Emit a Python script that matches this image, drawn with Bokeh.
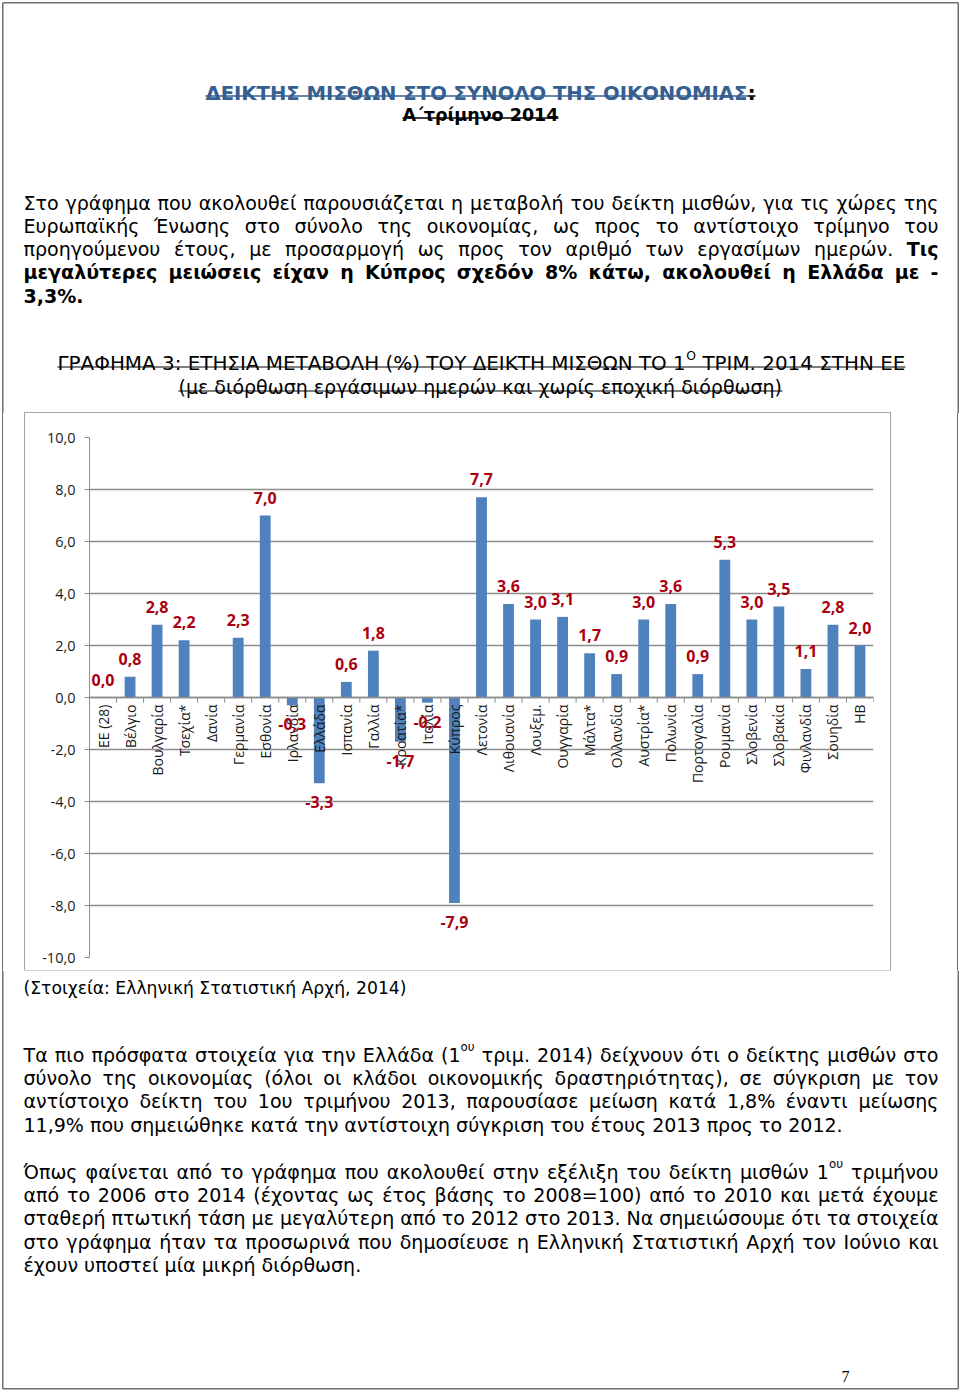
import math, os, glob, struct
from bokeh.plotting import figure
from bokeh.models import ColumnDataSource, Range1d, FactorRange, FixedTicker, Spacer
from bokeh.layouts import column, row
from bokeh.core.properties import value
from bokeh.embed import file_html
from bokeh.resources import INLINE

# ------------------------------------------------------------------ data
COUNTRIES = ["ΕΕ (28)", "Βέλγιο", "Βουλγαρία", "Τσεχία*", "Δανία", "Γερμανία",
             "Εσθονία", "Ιρλανδία", "Ελλάδα", "Ισπανία", "Γαλλία", "Κροατία*",
             "Ιταλία", "Κύπρος", "Λετονία", "Λιθουανία", "Λουξεμ.", "Ουγγαρία",
             "Μάλτα*", "Ολλανδία", "Αυστρία*", "Πολωνία", "Πορτογαλία", "Ρουμανία",
             "Σλοβενία", "Σλοβακία", "Φινλανδία", "Σουηδία", "ΗΒ"]
CHANGE = [0.0, 0.8, 2.8, 2.2, None, 2.3,
          7.0, -0.3, -3.3, 0.6, 1.8, -1.7,
          -0.2, -7.9, 7.7, 3.6, 3.0, 3.1,
          1.7, 0.9, 3.0, 3.6, 0.9, 5.3,
          3.0, 3.5, 1.1, 2.8, 2.0]
Y_TICKS = [-10, -8, -6, -4, -2, 0, 2, 4, 6, 8, 10]
Y_TICK_LABELS = ["-10,0", "-8,0", "-6,0", "-4,0", "-2,0", "0,0", "2,0", "4,0", "6,0", "8,0", "10,0"]

TITLE = "ΔΕΙΚΤΗΣ ΜΙΣΘΩΝ ΣΤΟ ΣΥΝΟΛΟ ΤΗΣ ΟΙΚΟΝΟΜΙΑΣ"
SUBTITLE = "Α΄τρίμηνο 2014"
INTRO = [
    ([("Στο γράφημα που ακολουθεί παρουσιάζεται η μεταβολή του δείκτη μισθών, για τις χώρες της", "n")], True),
    ([("Ευρωπαϊκής Ένωσης στο σύνολο της οικονομίας, ως προς το αντίστοιχο τρίμηνο του", "n")], True),
    ([("προηγούμενου έτους, με προσαρμογή ως προς τον αριθμό των εργασίμων ημερών.", "n"), (" Τις", "b")], True),
    ([("μεγαλύτερες μειώσεις είχαν η Κύπρος σχεδόν 8% κάτω, ακολουθεί η Ελλάδα με -", "b")], True),
    ([("3,3%.", "b")], False),
]
CHART_TITLE_1 = [("ΓΡΑΦΗΜΑ 3: ΕΤΗΣΙΑ ΜΕΤΑΒΟΛΗ (%) ΤΟΥ ΔΕΙΚΤΗ ΜΙΣΘΩΝ ΤΟ 1", "n"), ("Ο", "sup"),
                 (" ΤΡΙΜ. 2014 ΣΤΗΝ ΕΕ", "n")]
CHART_TITLE_2 = [("(με διόρθωση εργάσιμων ημερών και χωρίς εποχική διόρθωση)", "n")]
SOURCE = [("(Στοιχεία: Ελληνική Στατιστική Αρχή, 2014)", "n")]
PARA2 = [
    ([("Τα πιο πρόσφατα στοιχεία για την Ελλάδα (1", "n"), ("ου", "sup"),
      (" τριμ. 2014) δείχνουν ότι ο δείκτης μισθών στο", "n")], True),
    ([("σύνολο της οικονομίας (όλοι οι κλάδοι οικονομικής δραστηριότητας), σε σύγκριση με τον", "n")], True),
    ([("αντίστοιχο δείκτη του 1ου τριμήνου 2013, παρουσίασε μείωση κατά 1,8% έναντι μείωσης", "n")], True),
    ([("11,9% που σημειώθηκε κατά την αντίστοιχη σύγκριση του έτους 2013 προς το 2012.", "n")], False),
]
PARA3 = [
    ([("Όπως φαίνεται από το γράφημα που ακολουθεί στην εξέλιξη του δείκτη μισθών 1", "n"), ("ου", "sup"),
      (" τριμήνου", "n")], True),
    ([("από το 2006 στο 2014 (έχοντας ως έτος βάσης το 2008=100) από το 2010 και μετά έχουμε", "n")], True),
    ([("σταθερή πτωτική τάση με μεγαλύτερη από το 2012 στο 2013. Να σημειώσουμε ότι τα στοιχεία", "n")], True),
    ([("στο γράφημα ήταν τα  προσωρινά που δημοσίευσε η Ελληνική Στατιστική Αρχή τον Ιούνιο και", "n")], True),
    ([("έχουν υποστεί μία μικρή διόρθωση.", "n")], False),
]
PAGE_NO = "7"

# ------------------------------------------------------------------ styles
BLUE = "#365F91"
BAR = "#4F81BD"
LABEL_RED = "#AA000F"
GRID = "#8C8C8C"
PAGE_EDGE = "#6e6e6e"
BODY_FONT = "DejaVu Sans"


# ------------------------------------------------------------------ font metrics (for justification)
def find_font(fname):
    for root in ["/usr/share/fonts", "/usr/local/share/fonts",
                 os.path.expanduser("~/.fonts"), os.path.expanduser("~/.local/share/fonts")]:
        hits = glob.glob(os.path.join(root, "**", fname), recursive=True)
        if hits:
            return hits[0]
    return None


class Metrics:
    def __init__(self, path, fallback=0.6):
        self.ok = False
        self.fallback = fallback
        if path is None:
            return
        try:
            with open(path, "rb") as f:
                d = f.read()
            n = struct.unpack(">H", d[4:6])[0]
            t = {}
            for i in range(n):
                tag, _, off, _ln = struct.unpack(">4sIII", d[12 + 16 * i:28 + 16 * i])
                t[tag] = off
            upm = struct.unpack(">H", d[t[b"head"] + 18:t[b"head"] + 20])[0]
            nh = struct.unpack(">H", d[t[b"hhea"] + 34:t[b"hhea"] + 36])[0]
            hm = t[b"hmtx"]
            self.adv = [struct.unpack(">H", d[hm + 4 * i:hm + 4 * i + 2])[0] / upm for i in range(nh)]
            c = t[b"cmap"]
            nsub = struct.unpack(">H", d[c + 2:c + 4])[0]
            sub = None
            for i in range(nsub):
                pid, eid, off = struct.unpack(">HHI", d[c + 4 + 8 * i:c + 12 + 8 * i])
                fmt = struct.unpack(">H", d[c + off:c + off + 2])[0]
                if fmt == 4 and ((pid == 3 and eid == 1) or pid == 0):
                    sub = c + off
                    if pid == 3:
                        break
            segx2 = struct.unpack(">H", d[sub + 6:sub + 8])[0]
            seg = segx2 // 2
            self.ends = struct.unpack(">%dH" % seg, d[sub + 14:sub + 14 + segx2])
            self.starts = struct.unpack(">%dH" % seg, d[sub + 16 + segx2:sub + 16 + 2 * segx2])
            self.deltas = struct.unpack(">%dh" % seg, d[sub + 16 + 2 * segx2:sub + 16 + 3 * segx2])
            self.ro_pos = sub + 16 + 3 * segx2
            self.ros = struct.unpack(">%dH" % seg, d[self.ro_pos:self.ro_pos + segx2])
            self.d = d
            self.ok = True
        except Exception:
            self.ok = False

    def glyph(self, ch):
        cp = ord(ch)
        for i, e in enumerate(self.ends):
            if e >= cp:
                if self.starts[i] > cp:
                    return 0
                if self.ros[i] == 0:
                    return (cp + self.deltas[i]) & 0xFFFF
                addr = self.ro_pos + 2 * i + self.ros[i] + 2 * (cp - self.starts[i])
                g = struct.unpack(">H", self.d[addr:addr + 2])[0]
                return (g + self.deltas[i]) & 0xFFFF if g else 0
        return 0

    def em(self, text):
        if not self.ok:
            return len(text) * self.fallback
        w = 0.0
        for ch in text:
            g = self.glyph(ch)
            w += self.adv[min(g, len(self.adv) - 1)]
        return w


MET = {"n": Metrics(find_font("DejaVuSans.ttf"), 0.6),
       "b": Metrics(find_font("DejaVuSans-Bold.ttf"), 0.68)}

KINDS = {
    "n": dict(w="n", s=1.0, rise=0.0, color="#000000"),
    "b": dict(w="b", s=1.0, rise=0.0, color="#000000"),
    "sup": dict(w="n", s=0.62, rise=0.40, color="#000000"),
    "tb": dict(w="b", s=1.0, rise=0.0, color=BLUE),
    "tk": dict(w="b", s=1.0, rise=0.0, color="#000000"),
}


def run_w(text, kind, size):
    k = KINDS[kind]
    return MET[k["w"]].em(text) * size * k["s"]


def runs_w(runs, size):
    return sum(run_w(t, k, size) for t, k in runs)


def words_of(runs):
    words = [[]]
    for text, kind in runs:
        parts = text.split(" ")
        for j, part in enumerate(parts):
            if j > 0 and words[-1]:
                words.append([])
            if part:
                words[-1].append((part, kind))
    return [w for w in words if w]


class Page:
    def __init__(self):
        self.groups = {}
        self.ul = dict(x0=[], x1=[], y=[], c=[], w=[])

    def put(self, x, y, text, kind, size):
        k = KINDS[kind]
        fs = round(size * k["s"], 2)
        key = (k["w"], fs, k["color"])
        d = self.groups.setdefault(key, dict(x=[], y=[], t=[]))
        d["x"].append(x)
        d["y"].append(y - k["rise"] * size)
        d["t"].append(text)

    def runs(self, runs, x, y, size, underline=None):
        for text, kind in runs:
            w = run_w(text, kind, size)
            stripped = text.lstrip(" ")
            lead = run_w(text[:len(text) - len(stripped)], kind, size)
            if stripped:
                self.put(x + lead, y, stripped, kind, size)
            if underline:
                self.ul["x0"].append(x)
                self.ul["x1"].append(x + w)
                self.ul["y"].append(y + underline[0])
                self.ul["c"].append(KINDS[kind]["color"])
                self.ul["w"].append(underline[1])
            x += w
        return x

    def centered(self, runs, cx, y, size, underline=None):
        self.runs(runs, cx - runs_w(runs, size) / 2, y, size, underline)

    def justified(self, runs, x0, x1, y, size):
        words = words_of(runs)
        ws = [runs_w(wd, size) for wd in words]
        gap = (x1 - x0 - sum(ws)) / (len(words) - 1) if len(words) > 1 else 0
        x = x0
        for wd, w in zip(words, ws):
            self.runs(wd, x, y, size)
            x += w + gap

    def paragraph(self, lines, x0, x1, ys, size):
        for (runs, just), y in zip(lines, ys):
            if just:
                self.justified(runs, x0, x1, y, size)
            else:
                self.runs(runs, x0, y, size)

    def render(self, fig):
        for (w, fs, color), d in self.groups.items():
            fig.text(x="x", y="y", text="t", source=ColumnDataSource(d),
                     text_font=value(BODY_FONT), text_font_size=value(f"{fs}px"),
                     text_font_style="bold" if w == "b" else "normal",
                     text_color=color, text_align="left", text_baseline="alphabetic")
        if self.ul["x0"]:
            fig.segment(x0="x0", y0="y", x1="x1", y1="y", line_color="c", line_width="w",
                        source=ColumnDataSource(self.ul))


PAGE_W = 960
EDGE_L, EDGE_R, EDGE_T, EDGE_B = 2.25, 957.75, 2.25, 1388.25


def page_figure(y_top, y_bot):
    f = figure(width=PAGE_W, height=int(y_bot - y_top), x_range=Range1d(0, PAGE_W),
               y_range=Range1d(y_bot, y_top), x_axis_type=None, y_axis_type=None,
               output_backend="svg", toolbar_location=None,
               min_border_left=0, min_border_right=0, min_border_top=0, min_border_bottom=0)
    f.grid.visible = False
    f.outline_line_color = None
    f.background_fill_color = "white"
    # page frame (left/right edges within this band)
    y0 = max(y_top, EDGE_T)
    y1 = min(y_bot, EDGE_B)
    f.segment(x0=[EDGE_L, EDGE_R], y0=[y0, y0], x1=[EDGE_L, EDGE_R], y1=[y1, y1],
              line_color=PAGE_EDGE, line_width=1.5)
    if y_top <= EDGE_T <= y_bot:
        f.segment(x0=[EDGE_L], y0=[EDGE_T], x1=[EDGE_R], y1=[EDGE_T], line_color=PAGE_EDGE, line_width=1.5)
    if y_top <= EDGE_B <= y_bot:
        f.segment(x0=[EDGE_L], y0=[EDGE_B], x1=[EDGE_R], y1=[EDGE_B], line_color=PAGE_EDGE, line_width=1.5)
    return f


# ------------------------------------------------------------------ font sizes fitted to the reference extents
body_size = 0.5 * (338 / MET["n"].em(PARA3[-1][0][0][0]) + 819 / MET["n"].em(PARA2[-1][0][0][0]))
title_size = 550 / MET["b"].em(TITLE + ":")
sub_size = 156 / MET["b"].em(SUBTITLE)
ct1_size = 848 / (runs_w(CHART_TITLE_1, 1.0))
ct2_size = 604 / MET["n"].em(CHART_TITLE_2[0][0])
src_size = 383 / MET["n"].em(SOURCE[0][0])

# ------------------------------------------------------------------ top part of the page
top = page_figure(0, 413)
tp = Page()
tp.centered([(TITLE, "tb"), (":", "tk")], 480, 92.5, title_size, underline=(3, 1.5))
tp.centered([(SUBTITLE, "b")], 480, 114.5, sub_size, underline=(3, 1.5))
tp.paragraph(INTRO, 23, 938, [202, 225, 248, 271.5, 295], body_size)
tp.centered(CHART_TITLE_1, 481, 363, ct1_size, underline=(3.5, 1))
tp.centered(CHART_TITLE_2, 480, 386.5, ct2_size, underline=(4, 1))
tp.render(top)

# ------------------------------------------------------------------ chart
chart = figure(width=865, height=557, x_range=FactorRange(factors=COUNTRIES),
               y_range=Range1d(-10, 10), output_backend="svg", toolbar_location=None,
               min_border_left=64, min_border_right=17, min_border_top=24, min_border_bottom=13,
               styles={"outline": "1px solid #a6a6a6"})
chart.outline_line_color = None
chart.background_fill_color = "white"

cats = [c for c, v in zip(COUNTRIES, CHANGE) if v is not None]
vals = [v for v in CHANGE if v is not None]
labels = [f"{v:.1f}".replace(".", ",") for v in vals]
offsets = [-18 if v >= 0 else 19 for v in vals]
src = ColumnDataSource(dict(c=cats, v=vals, lbl=labels, off=offsets))

chart.xgrid.visible = False
chart.ygrid.ticker = FixedTicker(ticks=Y_TICKS)
chart.ygrid.grid_line_color = GRID
chart.ygrid.grid_line_width = 1.5

chart.vbar(x="c", top="v", bottom=0, width=0.4, fill_color=BAR, line_color=None, source=src)

# category boundary tick marks below the zero line
bounds = list(range(len(COUNTRIES) + 1))
chart.segment(x0=bounds, y0=[0] * len(bounds), x1=bounds, y1=[-0.2] * len(bounds),
              line_color=GRID, line_width=1)

lab = chart.text(x="c", y="v", text="lbl", y_offset="off", source=src,
                 text_font=value("Open Sans"), text_font_size=value("16px"),
                 text_font_style="bold", text_color=LABEL_RED,
                 text_align="center", text_baseline="middle")
lab.level = "annotation"

yax = chart.yaxis[0]
yax.ticker = FixedTicker(ticks=Y_TICKS)
yax.major_label_overrides = dict(zip(Y_TICKS, Y_TICK_LABELS))
yax.axis_line_color = GRID
yax.major_tick_line_color = GRID
yax.major_tick_out = 5
yax.major_tick_in = 0
yax.minor_tick_line_color = None
yax.major_label_standoff = 9
yax.major_label_text_font = "Open Sans"
yax.major_label_text_font_size = "14.5px"
yax.major_label_text_color = "#1a1a1a"

xax = chart.xaxis[0]
xax.fixed_location = 0
xax.major_label_orientation = math.pi / 2
xax.axis_line_color = GRID
xax.axis_line_width = 1.5
xax.major_tick_line_color = None
xax.major_tick_in = 0
xax.major_tick_out = 0
xax.major_label_standoff = 7
xax.major_label_text_font = "Open Sans"
xax.major_label_text_font_size = "14px"
xax.major_label_text_color = "#1a1a1a"

# ------------------------------------------------------------------ bottom part of the page
bottom = page_figure(970, 1391)
bp = Page()
bp.runs(SOURCE, 23, 987.5, src_size)
bp.paragraph(PARA2, 23, 938, [1054.5, 1077.5, 1100.5, 1124], body_size)
bp.paragraph(PARA3, 23, 938, [1171, 1194, 1217.5, 1241, 1264], body_size)
bp.render(bottom)
bottom.text(x=[845], y=[1376], text=[PAGE_NO], text_font=value("Liberation Serif"),
            text_font_size=value("16px"), text_color="#000000",
            text_align="center", text_baseline="alphabetic")

layout = column(top, row(Spacer(width=25, height=557), chart), bottom,
                styles={"outline": f"1.5px solid {PAGE_EDGE}", "outline-offset": "-3px"})

open("out.html", "w").write(file_html(layout, INLINE))
